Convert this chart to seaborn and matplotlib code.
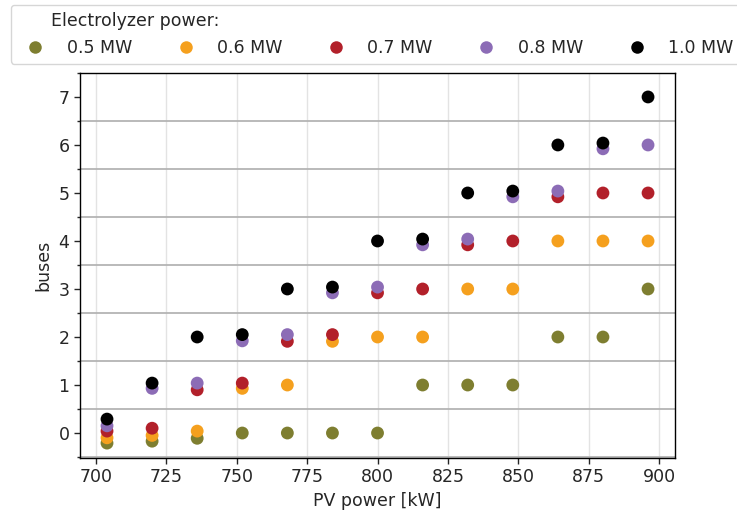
import matplotlib
matplotlib.use("Agg")
import matplotlib.pyplot as plt
import seaborn as sns
import pandas as pd
from matplotlib.ticker import MultipleLocator

pv_power = [704, 720, 736, 752, 768, 784, 800, 816, 832, 848, 864, 880, 896]

buses_05 = [-0.21, -0.17, -0.11, 0, 0, 0, 0, 1, 1, 1, 2, 2, 3]
buses_06 = [-0.10, -0.05, 0.04, 0.93, 1, 1.91, 2, 2, 3, 3, 4, 4, 4]
buses_07 = [0.04, 0.10, 0.90, 1.04, 1.91, 2.05, 2.92, 3, 3.92, 4, 4.92, 5, 5]
buses_08 = [0.15, 0.93, 1.04, 1.92, 2.05, 2.92, 3.04, 3.92, 4.04, 4.92, 5.04, 5.92, 6]
buses_10 = [0.29, 1.04, 2, 2.05, 3, 3.04, 4, 4.04, 5, 5.04, 6, 6.04, 7]

series_labels = ["0.5 MW", "0.6 MW", "0.7 MW", "0.8 MW", "1.0 MW"]
series_values = [buses_05, buses_06, buses_07, buses_08, buses_10]
colors = ["#7e7e30", "#f5a01e", "#b2202a", "#8c6cb6", "#000000"]

rows = []
for lab, vals in zip(series_labels, series_values):
    for x, y in zip(pv_power, vals):
        rows.append({"PV power [kW]": x, "buses": y, "Electrolyzer power": lab})
df = pd.DataFrame(rows)

sns.set_style("white")
plt.rcParams["font.family"] = ["DejaVu Sans"]
FS = 12.5

fig = plt.figure(figsize=(7.37, 5.12), dpi=100)
ax = fig.add_axes([0.1085, 0.1055, 0.8075, 0.752])

sns.scatterplot(data=df, x="PV power [kW]", y="buses", hue="Electrolyzer power",
                hue_order=series_labels, palette=dict(zip(series_labels, colors)),
                s=85, linewidth=0, ax=ax, zorder=3)

ax.set_ylim(-0.52, 7.5)
ax.yaxis.set_major_locator(MultipleLocator(1))
ax.yaxis.set_minor_locator(MultipleLocator(0.5))
ax.xaxis.set_major_locator(MultipleLocator(25))
ax.tick_params(axis="both", which="major", length=4, width=1, labelsize=FS, left=True, bottom=True)
ax.tick_params(axis="y", which="minor", length=2.5, width=1, left=True)
ax.grid(axis="x", which="major", color="#e3e3e3", lw=1)
ax.grid(axis="y", which="major", visible=False)
ax.yaxis.grid(True, which="minor", color="#b4b4b4", lw=1.3)
ax.set_axisbelow(True)
for sp in ax.spines.values():
    sp.set_color("black")
    sp.set_linewidth(1)
ax.set_xlabel("PV power [kW]", fontsize=FS)
ax.set_ylabel("buses", fontsize=FS)

ax.get_legend().remove()
handles, labels = ax.get_legend_handles_labels()
for h in handles:
    try:
        h.set_markersize(9)
    except Exception:
        pass
leg = fig.legend(handles, labels, title="      Electrolyzer power:", loc="upper left",
                 bbox_to_anchor=(11 / 737, 1 - 5 / 512), borderaxespad=0, ncol=5,
                 fontsize=FS, title_fontsize=FS, alignment="left", columnspacing=2.1,
                 handletextpad=0.8, handlelength=2.0, frameon=True, edgecolor="#cccccc")

fig.savefig("out.png", dpi=100)
